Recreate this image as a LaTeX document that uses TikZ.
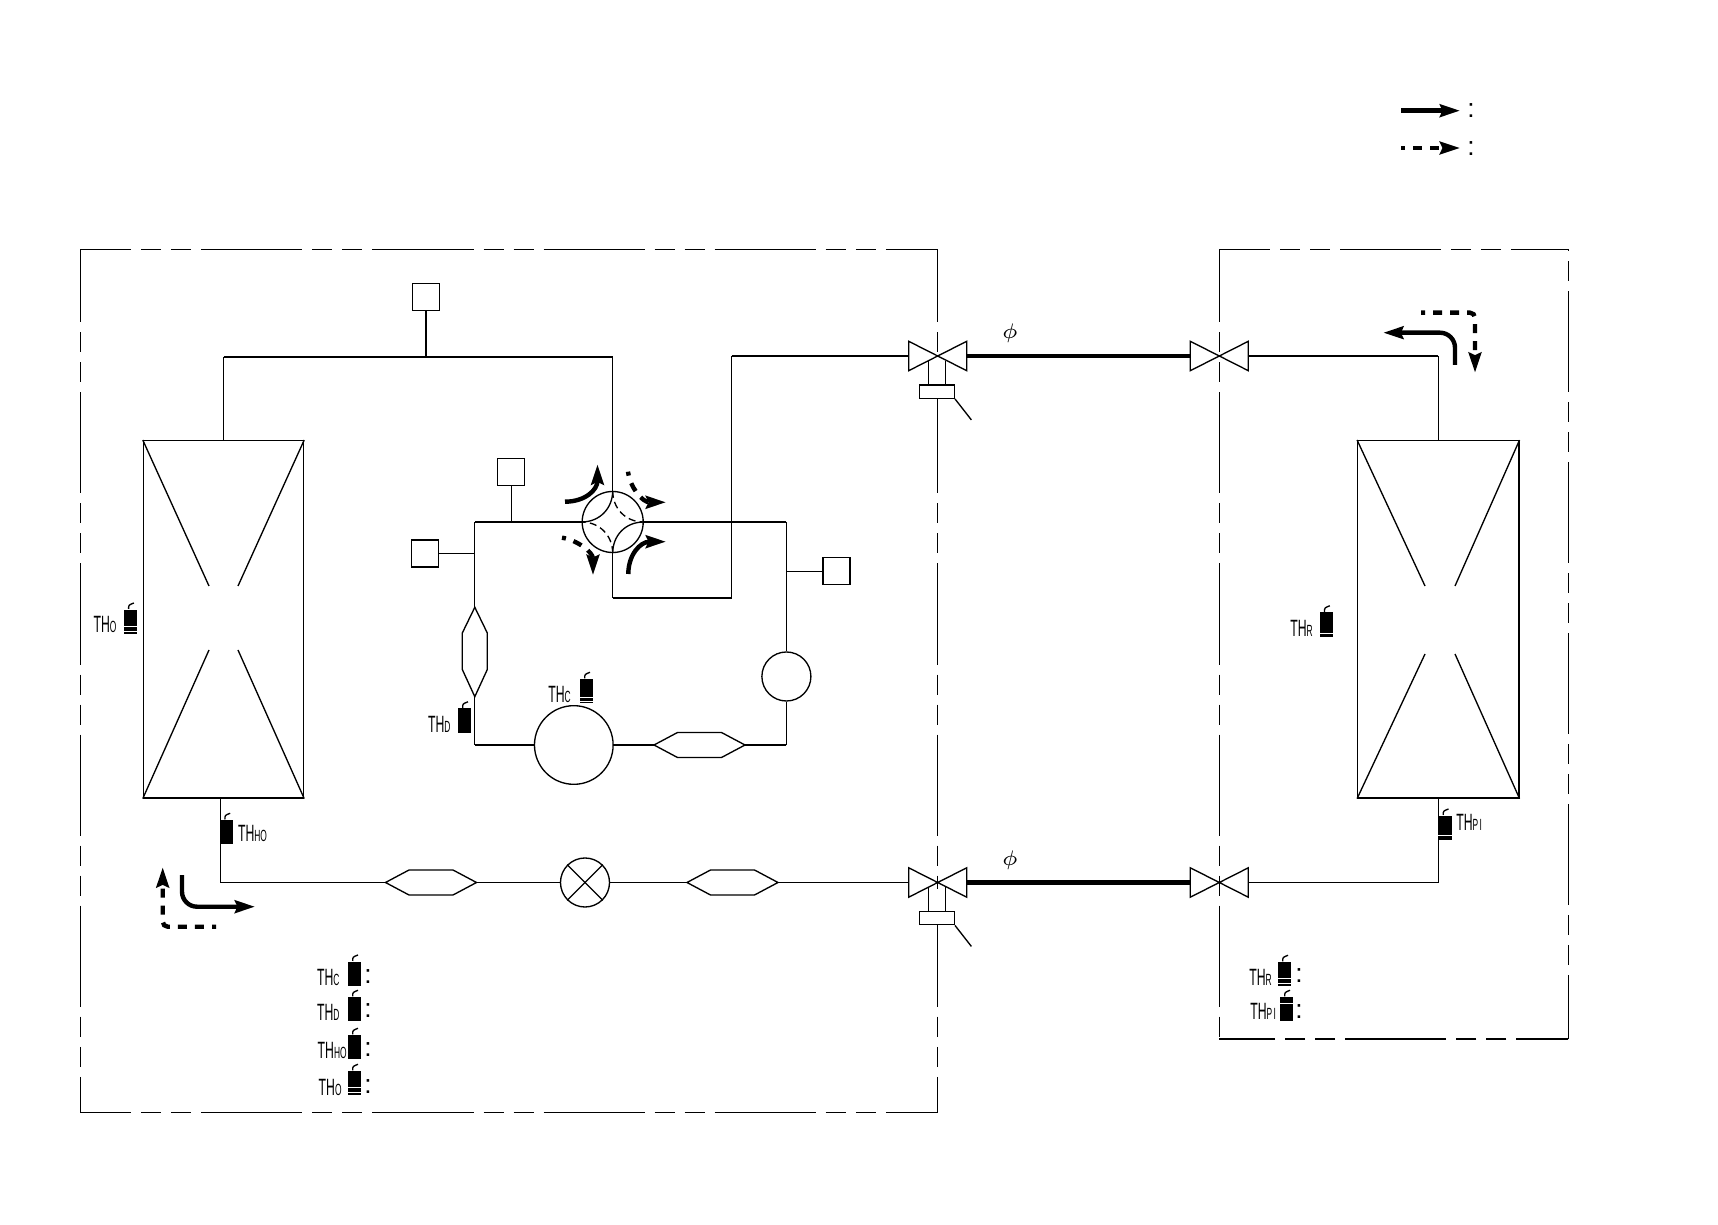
\documentclass[tikz,border=0pt]{standalone}
\usepackage{fontspec}
\setmainfont{Liberation Sans}
\usetikzlibrary{arrows.meta,calc}

\tikzset{
pipe/.style = {line width=.38pt},
unitline/.style = {line width=.38pt,dash pattern=on 1.01cm off .1cm on .2cm off .1cm on .2cm off .1cm},
sensorbox/.style = {draw,line width=.38pt,minimum size=.27cm,inner sep=0},
round/.style = {draw,circle,line width=.38pt,fill=white,inner sep=0},
coil/.style = {draw,line width=.38pt,minimum width=1.6cm,minimum height=3.57cm,inner sep=0},
stembox/.style = {draw,line width=.38pt,fill=white,minimum width=.35cm,minimum height=.133cm,inner sep=0},
bulb/.style = {fill=black,minimum width=.13cm,minimum height=.24cm,inner sep=0},
thtext/.style = {xscale=.52,anchor=base west,inner sep=0,font=\fontsize{6.7}{8}\selectfont},
dots/.style = {anchor=base,inner sep=0,font=\fontsize{7.5}{8}\selectfont},
flow/.style = {line width=1.25pt,-{Stealth[length=.2cm,width=.125cm,inset=.025cm]}},
flowdash/.style = {flow,dash pattern=on .09cm off .08cm,dash phase=.05cm}
}

\begin{document}
\begin{tikzpicture}[x=.01cm,y=-.01cm]

\useasboundingbox (0,0) rectangle (1718,1225);

\coordinate (lb1) at (80.3,249.3);
\coordinate (lb2) at (937.7,249.3);
\coordinate (lb3) at (937.7,1112.5);
\coordinate (lb4) at (80.3,1112.5);
\coordinate (rb1) at (1219.3,249.3);
\coordinate (rb2) at (1568.3,249.3);
\coordinate (rb3) at (1568.3,1039);
\coordinate (rb4) at (1219.3,1039);

\foreach \a/\b/\p in {lb1/lb2/.5,lb1/lb4/.28,lb4/lb3/.5,lb2/lb3/.28,rb1/rb2/.5,rb1/rb4/.28,rb3/rb4/.49,rb3/rb2/.37}
{\draw[unitline,dash phase=\p cm] (\a) -- (\b);}

\node[coil] (hl) at (223.5,619.3) {};
\node[coil,minimum width=1.61cm] (hr) at (1438.3,619.3) {};

\coordinate (hl1) at (209,586);
\coordinate (hl2) at (238,586);
\coordinate (hl3) at (209,650);
\coordinate (hl4) at (238,650);
\coordinate (hr1) at (1425,586);
\coordinate (hr2) at (1455,586);
\coordinate (hr3) at (1425,654);
\coordinate (hr4) at (1455,654);

\foreach \a/\b in {hl.north west/hl1,hl.north east/hl2,hl.south west/hl3,hl.south east/hl4,hr.north west/hr1,hr.north east/hr2,hr.south west/hr3,hr.south east/hr4}
{\draw[pipe] (\a) -- (\b);}

\foreach \v/\x/\y in {vA/937.7/356,vB/1219.3/356,vC/937.7/882.5,vD/1219.3/882.5}
{
\draw[pipe] (\x-29,\y-14.7) -- (\x+29,\y+14.7) -- (\x+29,\y-14.7) -- (\x-29,\y+14.7) -- cycle;
\coordinate (\v w) at (\x-29,\y);
\coordinate (\v e) at (\x+29,\y);
}

\foreach \v/\x/\y in {vA/937.7/356,vC/937.7/882.5}
{
\fill[white] (\x-8.5,\y+6) rectangle (\x+7.5,\y+29);
\draw[pipe] (\x-9,\y+4.6) -- (\x-9,\y+29);
\draw[pipe] (\x+7.6,\y+4.6) -- (\x+7.6,\y+29);
\node[stembox] (\v b) at (\x-.9,\y+35.6) {};
\draw[pipe] (\v b.south east) -- +(16.4,21);
}

\node[round,minimum size=.61cm] (fv) at (612.7,522) {};
\node[round,minimum size=.786cm] (comp) at (573.8,745) {};
\node[round,minimum size=.49cm] (acc) at (786.4,676.5) {};
\node[round,minimum size=.49cm] (xv) at (585,882.5) {};

\node[sensorbox] (p1) at (426,297.3) {};
\node[sensorbox] (p2) at (511.3,472.2) {};
\node[sensorbox] (p3) at (425,553.5) {};
\node[sensorbox] (p4) at (836.5,571.2) {};

\foreach \h/\x/\y in {hA/699.5/745,hB/431/882.5,hC/732.5/882.5}
{
\draw[pipe] (\x-45.5,\y) -- (\x-22,\y-12.5) -- (\x+22,\y-12.5) -- (\x+45.5,\y) -- (\x+22,\y+12.5) -- (\x-22,\y+12.5) -- cycle;
\coordinate (\h w) at (\x-45.5,\y);
\coordinate (\h e) at (\x+45.5,\y);
}

\coordinate (hVn) at (474.8,607.3);
\coordinate (hVs) at (474.8,696.7);
\draw[pipe] (hVn) -- (487.3,633) -- (487.3,669.5) -- (hVs) -- (462.3,669.5) -- (462.3,633) -- cycle;

\coordinate (t1) at (223.5,357);
\coordinate (t2) at (426,357);
\coordinate (t3) at (612.7,357);
\coordinate (q1) at (612.7,598);
\coordinate (q2) at (731.5,598);
\coordinate (q3) at (731.5,356);
\coordinate (l1) at (474.8,522);
\coordinate (l2) at (474.8,745);
\coordinate (r1) at (786.4,522);
\coordinate (r2) at (786.4,745);
\coordinate (j2) at (511.3,522);
\coordinate (j3) at (474.8,553.5);
\coordinate (j4) at (786.4,571.2);
\coordinate (b1) at (220.3,798);
\coordinate (b2) at (220.3,882.5);
\coordinate (c1) at (1438.3,356);
\coordinate (c2) at (1438.3,882.5);
\coordinate (c3) at (1438.3,798);

\foreach \a/\b in {hl.north/t1,t1/t3,t3/fv.north,p1/t2,fv.south/q1,q1/q2,q2/q3,q3/vAw,p2/j2,p3/j3,p4/j4,l1/fv.west,fv.east/r1,r1/acc.north,acc.south/r2,r2/hAe,hAw/comp.east,comp.west/l2,l2/hVs,hVn/l1,b1/b2,b2/hBw,hBe/xv.west,xv.east/hCw,hCe/vCw,vBe/c1,c1/hr.north,vDe/c2,c2/c3,xv.45/xv.225,xv.135/xv.315}
{\draw[pipe] (\a) -- (\b);}

\foreach \a/\b in {vAe/vBw,vCe/vDw}
{\draw[line width=1.15pt] (\a) -- (\b);}

\draw[pipe] (fv.north) .. controls (612.7,508) and (600,522) .. (fv.west);
\draw[pipe] (fv.south) .. controls (612.7,536) and (625,522) .. (fv.east);
\draw[pipe,dash pattern=on 2pt off 1.2pt] (fv.north) .. controls (612.7,508) and (625,522) .. (fv.east);
\draw[pipe,dash pattern=on 2pt off 1.2pt] (fv.south) .. controls (612.7,536) and (600,522) .. (fv.west);

\node at (1010,333) {\fontsize{6}{7}\selectfont$\phi$};
\node at (1010,860) {\fontsize{6}{7}\selectfont$\phi$};

\draw[flow] (565,501.7) .. controls (585,501.7) and (597.5,490) .. (597.5,464.5);
\draw[flow] (628.3,574) .. controls (628.3,555) and (640,541.7) .. (666,541.7);
\draw[flowdash] (628,471.7) .. controls (630,487) and (642,502.3) .. (666,502.3);
\draw[flowdash] (562,537.7) .. controls (577,540) and (593,552) .. (593,575);

\coordinate (f1) at (182,875);
\coordinate (f2) at (182,906.7);
\coordinate (f3) at (255,906.7);
\coordinate (f4) at (216,926.7);
\coordinate (f5) at (162.7,926.7);
\coordinate (f6) at (162.7,867.3);
\coordinate (f7) at (1455,365);
\coordinate (f8) at (1455,332.7);
\coordinate (f9) at (1383.3,332.7);
\coordinate (f10) at (1421,312.7);
\coordinate (f11) at (1475,312.7);
\coordinate (f12) at (1475,372.7);
\coordinate (f13) at (1401,110.7);
\coordinate (f14) at (1460,110.7);
\coordinate (f15) at (1401,148);
\coordinate (f16) at (1460,148);

\draw[flow,rounded corners=.15cm] (f1) -- (f2) -- (f3);
\draw[flow,rounded corners=.15cm] (f7) -- (f8) -- (f9);
\draw[flowdash,rounded corners=.05cm] (f4) -- (f5) -- (f6);
\draw[flowdash,rounded corners=.05cm] (f10) -- (f11) -- (f12);
\draw[flow] (f13) -- (f14);
\draw[flowdash] (f15) -- (f16);

\foreach \s/\x/\y in {sO/130.4/621.7,sHO/226.7/832,sD/464.5/720.5,sC/586.5/691,sR/1326.3/624.5,sPI/1445/827.7,sLC/354.5/973.7,sLD/354.5/1009,sLHO/354.5/1047,sLO/354.5/1083,sLR/1284.5/974,sLPI/1286.5/1009}
{
\node[bulb] (\s) at (\x,\y) {};
\draw[pipe] ($(\s.north)+(-1.8,0)$) .. controls ($(\s.north)+(-1.8,-4)$) .. ($(\s.north)+(3.5,-6)$);
}

\foreach \s/\d in {sO/3,sO/8,sC/2,sC/6,sR/3.5,sPI/5,sLO/3,sLO/8,sLR/3,sLR/8,sLPI/18.5}
{\draw[white,line width=.3pt] ($(\s.south west)+(0,-\d)$) -- ($(\s.south east)+(0,-\d)$);}

\foreach \x/\y/\t in {93.3/633/O,237.7/841/HO,427.7/732/D,548/703/C,1290/636.7/R,1456/830.7/P\,I,316.7/985.7/C,316.7/1020.7/D,317.3/1058.7/HO,318.3/1095/O,1249/985.7/R,1250/1019/P\,I}
{\node[thtext] at (\x,\y) {TH{\fontsize{4.6}{5}\selectfont\t}};}

\foreach \x/\y in {1471/118,1471/155.5,368/983,368/1017,368/1056,368/1093,1299/982,1299/1018}
{\node[dots] at (\x,\y) {:};}

\end{tikzpicture}
\end{document}
